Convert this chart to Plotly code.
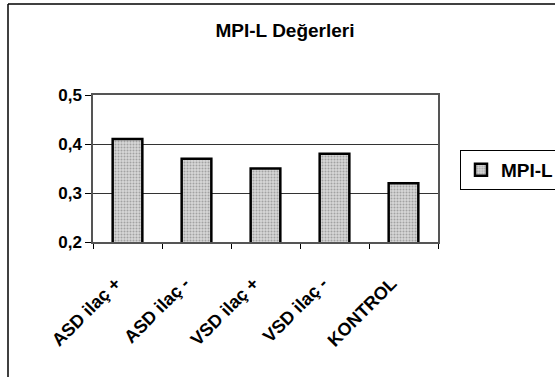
import plotly.graph_objects as go

categories = ["ASD ilaç +", "ASD ilaç -", "VSD ilaç +", "VSD ilaç -", "KONTROL"]
values = [0.41, 0.37, 0.35, 0.38, 0.32]
series_name = "MPI-L"
y_ticks = [0.2, 0.3, 0.4, 0.5]
y_tick_labels = ["0,2", "0,3", "0,4", "0,5"]

W, H = 555, 377
L, R, T, B = 93, 438, 95, 242
pw, ph = R - L, B - T

def px_x(x):
    return (x - L) / pw

def px_y(y):
    return (B - y) / ph

FONT = "Liberation Sans, Arial, sans-serif"

fig = go.Figure()
fig.add_trace(go.Bar(
    x=categories, y=values, name=series_name,
    width=0.43,
    marker=dict(
        color="#bdbdbd",
        line=dict(color="black", width=2.5),
        pattern=dict(shape=".", fgcolor="#6e6e6e", bgcolor="#d6d6d6", size=3, solidity=0.35),
    ),
    showlegend=True,
))

fig.update_layout(
    width=W, height=H,
    margin=dict(l=L, r=W - R, t=T, b=H - B, autoexpand=False),
    paper_bgcolor="white", plot_bgcolor="white",
    font=dict(family=FONT, color="black"),
    title=dict(text="<b>MPI-L Değerleri</b>", x=285 / W, xanchor="center",
               y=1 - 30 / H, yanchor="middle", yref="container",
               font=dict(size=19, family=FONT)),
    xaxis=dict(
        type="category", tickangle=-45, tickson="boundaries",
        ticks="outside", ticklen=5, tickcolor="black",
        tickfont=dict(size=18, family=FONT, weight="bold"),
        ticklabelstandoff=22, ticklabelshift=-12,
        showline=True, linecolor="#555", linewidth=1.5, mirror=True,
        showgrid=False, automargin=False,
    ),
    yaxis=dict(
        range=[0.2, 0.5], tickvals=y_ticks, ticktext=y_tick_labels,
        ticks="outside", ticklen=6, tickcolor="black",
        tickfont=dict(size=17, family=FONT, weight="bold"),
        showline=True, linecolor="#555", linewidth=1.5, mirror=True,
        showgrid=True, gridcolor="#333", gridwidth=1,
        zeroline=False, automargin=False,
    ),
    legend=dict(
        x=px_x(460), y=px_y(150), xanchor="left", yanchor="top",
        bordercolor="black", borderwidth=1, bgcolor="white",
        font=dict(size=19, family=FONT, weight="bold"),
        itemwidth=30, tracegroupgap=0,
    ),
)

# outer chart-area border (left and top lines)
fig.add_shape(type="line", xref="paper", yref="paper",
              x0=px_x(8), x1=px_x(8), y0=px_y(4), y1=px_y(377), line=dict(color="black", width=1.5))
fig.add_shape(type="line", xref="paper", yref="paper",
              x0=px_x(8), x1=px_x(555), y0=px_y(4), y1=px_y(4), line=dict(color="black", width=1.5))

fig.write_html("out.html")
